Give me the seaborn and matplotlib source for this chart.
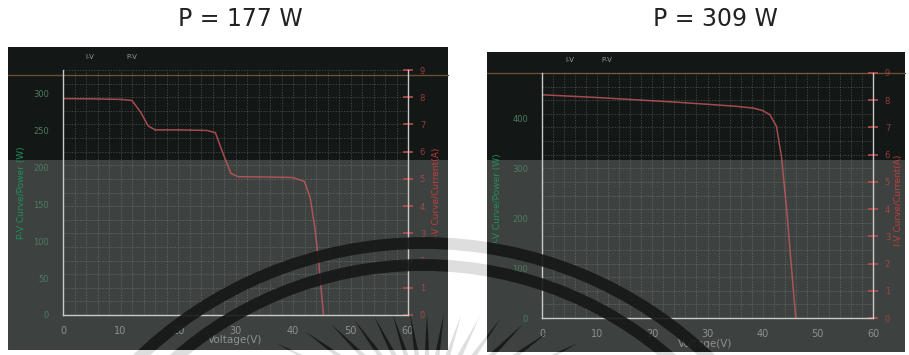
import numpy as np
import pandas as pd
import matplotlib
matplotlib.use("Agg")
import matplotlib.pyplot as plt
from matplotlib.patches import Rectangle, Arc, Polygon
from matplotlib.ticker import MultipleLocator
import seaborn as sns

sns.set_theme(style="white")
plt.rcParams['font.family'] = ['DejaVu Sans']

# ---------------- data ----------------
titles = ["P = 177 W", "P = 309 W"]
volt_left = [0, 5, 10, 12, 13.5, 14.8, 16, 20, 25, 26.5, 27.8, 29.2, 30.5, 35, 40, 42, 43, 43.8, 44.5, 45.0, 45.3]
curr_left = [7.95, 7.94, 7.92, 7.88, 7.45, 6.95, 6.8, 6.8, 6.78, 6.7, 5.95, 5.2, 5.08, 5.07, 5.05, 4.9, 4.3, 3.2, 1.9, 0.7, 0.0]
volt_right = [0, 5, 10, 15, 20, 25, 30, 35, 38.3, 40, 41.3, 42.5, 43.4, 44.3, 45.2, 46.0]
curr_right = [8.2, 8.15, 8.1, 8.04, 7.98, 7.92, 7.85, 7.78, 7.71, 7.62, 7.47, 7.04, 5.94, 4.1, 1.9, 0.0]
x_ticks = [0, 10, 20, 30, 40, 50, 60]
i_ticks = [0, 1, 2, 3, 4, 5, 6, 7, 8, 9]
p_ticks_left = [0, 50, 100, 150, 200, 250, 300]
p_ticks_right = [0, 100, 200, 300, 400]
legend_labels = ["I-V", "P-V"]

W, H = 909, 355
fig = plt.figure(figsize=(W / 100, H / 100), dpi=100)
fig.patch.set_facecolor("white")

def fr(x0, y0, x1, y1):
    return [x0 / W, 1 - y1 / H, (x1 - x0) / W, (y1 - y0) / H]

# background axes in pixel coordinates
bg = fig.add_axes([0, 0, 1, 1], zorder=0)
bg.set_xlim(0, W); bg.set_ylim(H, 0); bg.axis("off")
ov = fig.add_axes([0, 0, 1, 1], zorder=10)
ov.set_xlim(0, W); ov.set_ylim(H, 0); ov.axis("off"); ov.patch.set_alpha(0)

def watermark(ax, color, alpha, clip=None):
    """Decorative seal watermark (two arcs and a fan of tapered rays)."""
    arts = []
    for (cx, cy, r) in ((424, 655, 412), (423, 641, 376)):
        a = Arc((cx, cy), 2 * r, 2 * r, theta1=180, theta2=360, lw=8.5, color=color, alpha=alpha)
        ax.add_patch(a); arts.append(a)
    rcx, rcy, A, B = 427, 420, 216, 107
    for k in range(-7, 8):
        t = np.deg2rad(9 * k)
        rt = 1 / np.sqrt(np.cos(t) ** 2 / B ** 2 + np.sin(t) ** 2 / A ** 2)
        u = np.array([np.sin(t), -np.cos(t)])       # outward direction (pixel coords)
        nrm = np.array([np.cos(t), np.sin(t)])      # perpendicular
        c = np.array([rcx, rcy], dtype=float)
        tip = c + rt * u
        base = c + (rt - 95) * u
        hw = 5.0
        p = Polygon([tip, base + hw * nrm, base - hw * nrm], closed=True,
                    color=color, alpha=alpha, lw=0)
        ax.add_patch(p); arts.append(p)
    if clip is not None:
        for a in arts:
            a.set_clip_path(clip)

# faint watermark over white
watermark(bg, "#dedede", 1.0)

panels = [(8, 47, 448, 350), (487, 52, 905, 352)]
split_y = 160
for (x0, y0, x1, y1) in panels:
    bg.add_patch(Rectangle((x0, y0), x1 - x0, split_y - y0, color="#131716", lw=0))
    bg.add_patch(Rectangle((x0, split_y), x1 - x0, y1 - split_y, color="#3d4240", lw=0))

# orange horizontal lines across panels
bg.plot([8, 448], [75, 75], color="#6e4e33", lw=1.0)
bg.plot([487, 905], [73, 73], color="#6e4e33", lw=1.0)

plot_boxes = [(63, 70, 408, 315), (542, 73, 873, 318)]
p_max = [332, 492]
p_ticks = [p_ticks_left, p_ticks_right]
volts = [volt_left, volt_right]
currs = [curr_left, curr_right]

grid_kw = dict(color="#a8a8a8", lw=0.5, linestyle=(0, (2, 2)), alpha=0.4)

for k in range(2):
    ax = fig.add_axes(fr(*plot_boxes[k]), zorder=5)
    ax.patch.set_alpha(0)
    df = pd.DataFrame({"Voltage": volts[k], "Current": currs[k]})
    sns.lineplot(data=df, x="Voltage", y="Current", ax=ax, sort=False, estimator=None,
                 color="#c9585c", lw=1.1, alpha=0.8)
    ax.set_xlim(0, 60); ax.set_ylim(0, 9)
    ax.set_xticks(x_ticks)
    ax.set_xticklabels([str(v) for v in x_ticks])
    ax.set_yticks(i_ticks)
    ax.set_yticklabels([str(v) for v in i_ticks])
    ax.xaxis.set_minor_locator(MultipleLocator(2))
    ax.yaxis.set_minor_locator(MultipleLocator(0.5))
    ax.grid(True, which="both", **grid_kw)
    ax.set_xlabel(""); ax.set_ylabel("")

    axp = ax.twinx()
    axp.set_ylim(0, p_max[k])
    axp.set_yticks(p_ticks[k])
    axp.set_yticklabels([str(v) for v in p_ticks[k]])
    axp.yaxis.tick_left()
    axp.tick_params(axis="y", colors="#4e7a63", labelsize=6, length=0, pad=10)
    for s in axp.spines.values():
        s.set_visible(False)
    axp.grid(False)

    # current axis on the right (after twinx, which resets tick side)
    ax.yaxis.tick_right()
    ax.tick_params(axis="y", which="major", colors="#c04a4a", labelsize=6, length=7,
                   direction="inout", width=1.2, pad=5, left=False, labelleft=False,
                   right=True, labelright=True)
    for lab in ax.get_yticklabels():
        lab.set_alpha(0.75)
    ax.tick_params(axis="x", which="major", colors="#8c9290", labelsize=7, length=4,
                   direction="inout", width=1.2, pad=6)
    ax.tick_params(which="minor", length=0)
    for s in ("left", "bottom", "right"):
        ax.spines[s].set_visible(True)
        ax.spines[s].set_color("#c9c9c9")
        ax.spines[s].set_linewidth(1.0)
    ax.spines["top"].set_visible(False)

# dark watermark over panels
for (x0, y0, x1, y1) in panels:
    clip = Rectangle((x0, y0), x1 - x0, y1 - y0, transform=ov.transData)
    watermark(ov, "#161616", 0.9, clip=clip)

# titles
fig.text(240 / W, 1 - 19 / H, titles[0], ha="center", va="center", fontsize=17, color="#222222")
fig.text(715 / W, 1 - 19 / H, titles[1], ha="center", va="center", fontsize=17, color="#222222")

# legends
for (x1, x2, y) in [(90, 132, 57), (570, 607, 60)]:
    fig.text(x1 / W, 1 - y / H, legend_labels[0], fontsize=5, color="#9a9a9a", ha="center", va="center")
    fig.text(x2 / W, 1 - y / H, legend_labels[1], fontsize=5, color="#9a9a9a", ha="center", va="center")

# axis titles
for (xl, xr, yc, xv, yv) in [(22, 437, 193, 235, 340), (498, 899, 200, 705, 344)]:
    fig.text(xl / W, 1 - yc / H, "P-V Curve/Power (W)", rotation=90, fontsize=6.5,
             color="#1f8f58", ha="center", va="center")
    fig.text(xr / W, 1 - yc / H, "I-V Curve/Current(A)", rotation=90, fontsize=6.5,
             color="#c23c3c", ha="center", va="center")
    fig.text(xv / W, 1 - yv / H, "Voltage(V)", fontsize=7.5, color="#8c9290",
             ha="center", va="center")

fig.savefig("out.png", dpi=100, facecolor="white")
